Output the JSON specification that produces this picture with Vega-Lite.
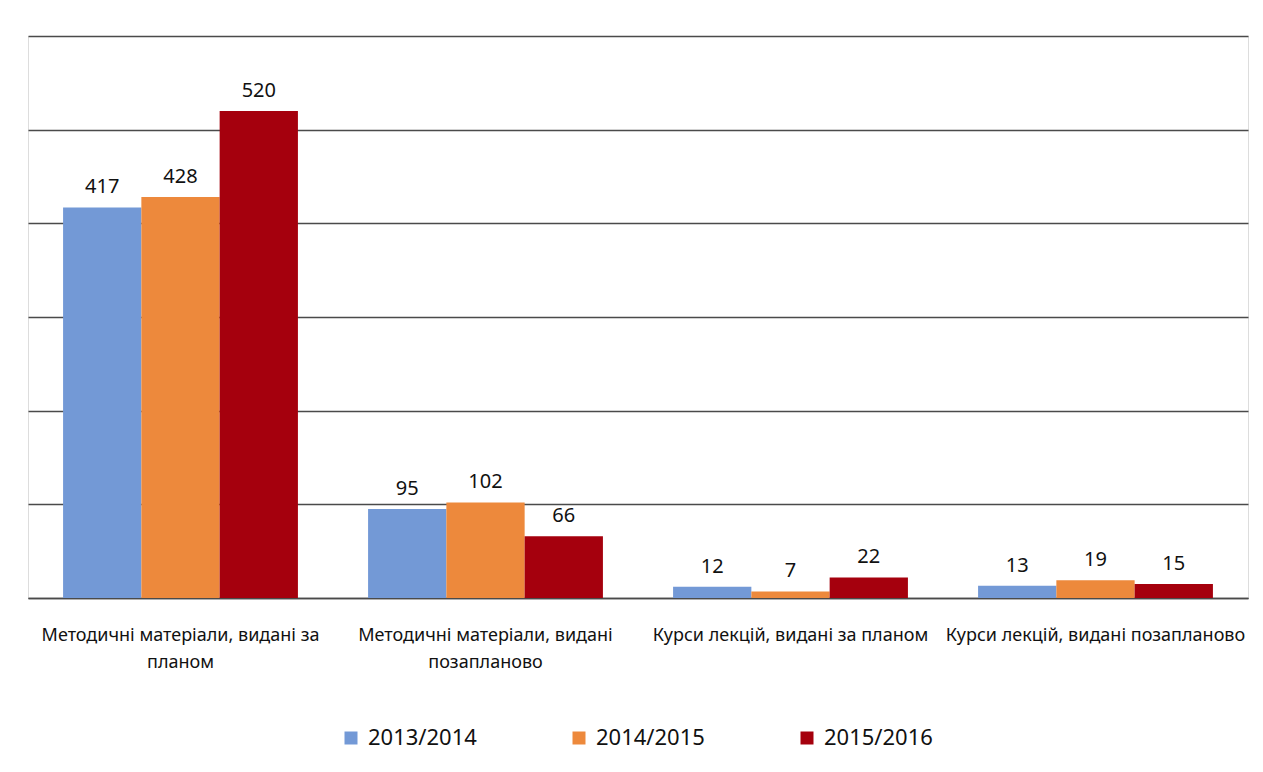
{
  "$schema": "https://vega.github.io/schema/vega-lite/v6.json",
  "width": 1220,
  "height": 562,
  "autosize": "none",
  "padding": {"left": 28, "top": 36, "right": 15, "bottom": 174},
  "background": "#ffffff",
  "data": {
    "values": [
      {"category": "Методичні матеріали, видані за планом", "year": "2013/2014", "value": 417},
      {"category": "Методичні матеріали, видані за планом", "year": "2014/2015", "value": 428},
      {"category": "Методичні матеріали, видані за планом", "year": "2015/2016", "value": 520},
      {"category": "Методичні матеріали, видані позапланово", "year": "2013/2014", "value": 95},
      {"category": "Методичні матеріали, видані позапланово", "year": "2014/2015", "value": 102},
      {"category": "Методичні матеріали, видані позапланово", "year": "2015/2016", "value": 66},
      {"category": "Курси лекцій, видані за планом", "year": "2013/2014", "value": 12},
      {"category": "Курси лекцій, видані за планом", "year": "2014/2015", "value": 7},
      {"category": "Курси лекцій, видані за планом", "year": "2015/2016", "value": 22},
      {"category": "Курси лекцій, видані позапланово", "year": "2013/2014", "value": 13},
      {"category": "Курси лекцій, видані позапланово", "year": "2014/2015", "value": 19},
      {"category": "Курси лекцій, видані позапланово", "year": "2015/2016", "value": 15}
    ]
  },
  "encoding": {
    "x": {
      "field": "category",
      "type": "nominal",
      "sort": null,
      "scale": {"paddingInner": 0.23, "paddingOuter": 0.115},
      "axis": {
        "title": null,
        "labelAngle": 0,
        "ticks": false,
        "domain": true,
        "domainColor": "#4a4a4a",
        "domainWidth": 1.5,
        "labelFont": "Noto Sans",
        "labelFontSize": 18,
        "labelColor": "#111111",
        "labelPadding": 28,
        "labelLineHeight": 27,
        "labelLimit": 400,
        "labelExpr": "datum.value == 'Методичні матеріали, видані за планом' ? ['Методичні матеріали, видані за', 'планом'] : datum.value == 'Методичні матеріали, видані позапланово' ? ['Методичні матеріали, видані', 'позапланово'] : datum.value"
      }
    },
    "xOffset": {"field": "year", "type": "nominal", "sort": ["2013/2014", "2014/2015", "2015/2016"]},
    "y": {
      "field": "value",
      "type": "quantitative",
      "scale": {"domain": [0, 600]},
      "axis": {
        "title": null,
        "labels": false,
        "ticks": false,
        "domain": false,
        "values": [0, 100, 200, 300, 400, 500, 600],
        "grid": true,
        "gridColor": "#4a4a4a",
        "gridWidth": 1.5
      }
    }
  },
  "layer": [
    {
      "mark": {"type": "bar"},
      "encoding": {
        "color": {
          "field": "year",
          "type": "nominal",
          "scale": {"domain": ["2013/2014", "2014/2015", "2015/2016"], "range": ["#7399d6", "#ed893c", "#a5000d"]},
          "legend": {
            "title": null,
            "orient": "none",
            "legendX": 312,
            "legendY": 691,
            "direction": "horizontal",
            "symbolType": "square",
            "symbolSize": 169,
            "symbolStrokeWidth": 0,
            "labelFont": "Noto Sans",
            "labelFontSize": 22,
            "labelColor": "#111111",
            "labelOffset": 6,
            "columnPadding": 91
          }
        }
      }
    },
    {
      "mark": {"type": "text", "baseline": "bottom", "dy": -10, "font": "Noto Sans", "fontSize": 20, "color": "#111111"},
      "encoding": {"text": {"field": "value", "type": "quantitative"}}
    }
  ]
}
